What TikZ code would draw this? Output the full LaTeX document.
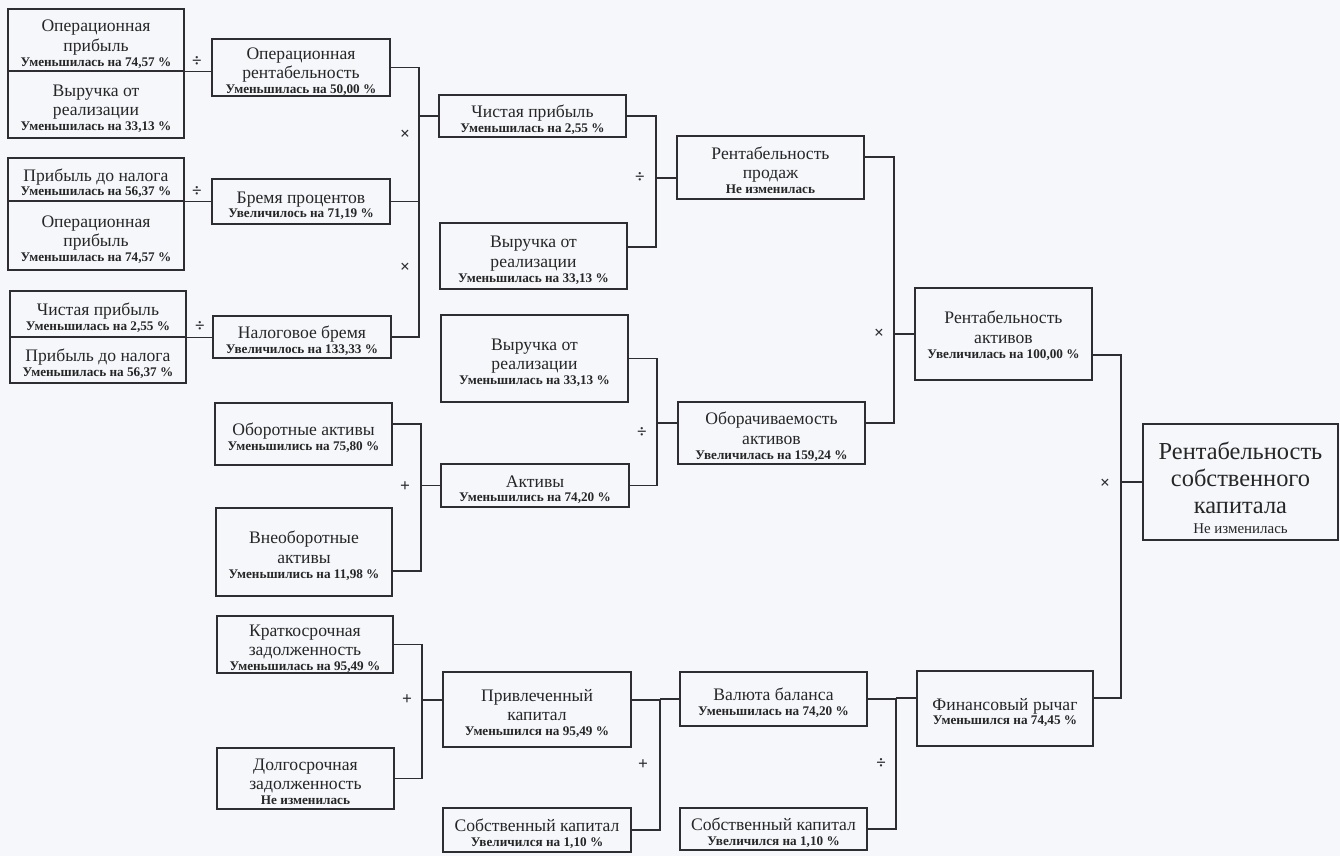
\documentclass[tikz,border=0pt]{standalone}
\usepackage{fontspec}
\setmainfont{Liberation Serif}
\usetikzlibrary{calc}
\definecolor{bg}{RGB}{245,247,251}
\definecolor{ln}{RGB}{45,45,50}
\newcommand{\sm}[1]{\\[-3.6pt]{\fontsize{9.9}{11}\selectfont\bfseries #1}}
\newcommand{\smr}[1]{\\[-6pt]{\fontsize{11.2}{12}\selectfont #1}}
\newcommand{\bx}[2][-3.8pt]{\raisebox{#1}[\height][\depth]{\begin{tabular}{@{}c@{}}#2\end{tabular}}}
\begin{document}
\begin{tikzpicture}[x=0.75pt,y=-0.75pt,
  box/.style={draw=ln, line width=0.9pt, fill=bg, inner sep=0pt, text=black!85, font=\fontsize{13.2}{14.8}\selectfont},
  wh/.style 2 args={minimum width=#1*0.75pt, minimum height=#2*0.75pt},
  wire/.style={draw=ln, line width=0.9pt},
  op/.style={font=\fontsize{13}{13}\selectfont\bfseries, text=ln, inner sep=0pt}]
\fill[bg] (0,0) rectangle (1340,856);
\useasboundingbox (0,0) rectangle (1340,856);

% column A
\node[box,wh={176}{62}] (A1) at (96,40) {\bx{Операционная\\прибыль\sm{Уменьшилась на 74,57~\%}}};
\node[box,wh={176}{67}] (A2) at (96,104.5) {\bx{Выручка от\\реализации\sm{Уменьшилась на 33,13~\%}}};
\node[box,wh={176}{43}] (A3) at (96,179.5) {\bx{Прибыль до налога\sm{Уменьшилась на 56,37~\%}}};
\node[box,wh={176}{69}] (A4) at (96,235.5) {\bx{Операционная\\прибыль\sm{Уменьшилась на 74,57~\%}}};
\node[box,wh={176}{46}] (A5) at (98,314) {\bx{Чистая прибыль\sm{Уменьшилась на 2,55~\%}}};
\node[box,wh={176}{46}] (A6) at (98,360) {\bx{Прибыль до налога\sm{Уменьшилась на 56,37~\%}}};

% column B
\node[box,wh={178}{57}] (B1) at (301,67.5) {\bx{Операционная\\рентабельность\sm{Уменьшилась на 50,00~\%}}};
\node[box,wh={178}{45}] (B2) at (301,201.5) {\bx{Бремя процентов\sm{Увеличилось на 71,19~\%}}};
\node[box,wh={178}{42}] (B3) at (302,337) {\bx{Налоговое бремя\sm{Увеличилось на 133,33~\%}}};
\node[box,wh={177}{62}] (B4) at (303.5,434) {\bx{Оборотные активы\sm{Уменьшились на 75,80~\%}}};
\node[box,wh={176}{88}] (B5) at (304,552) {\bx{Внеоборотные\\активы\sm{Уменьшились на 11,98~\%}}};
\node[box,wh={176}{57}] (B6) at (305,644.5) {\bx{Краткосрочная\\задолженность\sm{Уменьшилась на 95,49~\%}}};
\node[box,wh={177}{61}] (B7) at (305.5,778.5) {\bx{Долгосрочная\\задолженность\sm{Не изменилась}}};

% column C
\node[box,wh={187}{42}] (C1) at (532.5,116) {\bx{Чистая прибыль\sm{Уменьшилась на 2,55~\%}}};
\node[box,wh={187}{66}] (C2) at (533.5,256) {\bx{Выручка от\\реализации\sm{Уменьшилась на 33,13~\%}}};
\node[box,wh={187}{87}] (C3) at (534.5,358.5) {\bx{Выручка от\\реализации\sm{Уменьшилась на 33,13~\%}}};
\node[box,wh={188}{43}] (C4) at (535,485.5) {\bx{Активы\sm{Уменьшились на 74,20~\%}}};
\node[box,wh={188}{75}] (C5) at (537,709.5) {\bx{Привлеченный\\капитал\sm{Уменьшился на 95,49~\%}}};
\node[box,wh={188}{44}] (C6) at (537,830) {\bx{Собственный капитал\sm{Увеличился на 1,10~\%}}};

% column D
\node[box,wh={187}{63}] (D1) at (770.5,167.5) {\bx{Рентабельность\\продаж\sm{Не изменилась}}};
\node[box,wh={187}{62}] (D2) at (771.5,433) {\bx{Оборачиваемость\\активов\sm{Увеличилась на 159,24~\%}}};
\node[box,wh={187}{54}] (D3) at (773.5,699) {\bx{Валюта баланса\sm{Уменьшилась на 74,20~\%}}};
\node[box,wh={187}{42}] (D4) at (773.5,829) {\bx{Собственный капитал\sm{Увеличился на 1,10~\%}}};

% column E
\node[box,wh={177}{92}] (E1) at (1003.5,334) {\bx[-2.5pt]{Рентабельность\\активов\sm{Увеличилась на 100,00~\%}}};
\node[box,wh={176}{75}] (E3) at (1005,708.5) {\bx{Финансовый рычаг\sm{Уменьшился на 74,45~\%}}};
\node[box,wh={195}{116},font=\fontsize{18.3}{20.5}\selectfont] (E2) at (1240.5,482) {\bx[-6.6pt]{Рентабельность\\собственного\\капитала\smr{Не изменилась}}};

% shifted connection points
\coordinate (B4o) at ([yshift=7.5pt]B4.east);
\coordinate (B5o) at ([yshift=-14.25pt]B5.east);
\coordinate (C5i) at ([yshift=7.1pt]C5.west);
\coordinate (C5o) at ([yshift=7.1pt]C5.east);
\coordinate (C2o) at ([yshift=6.75pt]C2.east);
\coordinate (D1i) at ([yshift=-7.9pt]D1.west);
\coordinate (D1o) at ([yshift=7.9pt]D1.east);
\coordinate (D2i) at ([yshift=7.5pt]D2.west);
\coordinate (D2o) at ([yshift=7.5pt]D2.east);
\coordinate (E1o) at ([yshift=-15.75pt]E1.east);
\coordinate (E3i) at ([yshift=7.9pt]E3.west);
\coordinate (E3o) at ([yshift=7.9pt]E3.east);

% junction x positions
\coordinate (j1) at (419,0);
\coordinate (j2) at (421,0);
\coordinate (j3) at (422,0);
\coordinate (j4) at (656,0);
\coordinate (j5) at (657,0);
\coordinate (j6) at (660,0);
\coordinate (j7) at (894,0);
\coordinate (j8) at (896,0);
\coordinate (j9) at (1121,0);

% A -> B
\draw[wire] (A1.south east) -- (A1.south east -| B1.west);
\draw[wire] (A3.south east) -- (A3.south east -| B2.west);
\draw[wire] (A5.south east) -- (A5.south east -| B3.west);

% B -> C1
\draw[wire] (B1.east) -- (B1.east -| j1) -- (B3.east -| j1) -- (B3.east);
\draw[wire] (B2.east) -- (B2.east -| j1);
\draw[wire] (C1.west -| j1) -- (C1.west);
% B4,B5 -> C4
\draw[wire] (B4o) -- (B4o -| j2) -- (B5o -| j2) -- (B5o);
\draw[wire] (C4.west -| j2) -- (C4.west);
% B6,B7 -> C5
\draw[wire] (B6.east) -- (B6.east -| j3) -- (B7.east -| j3) -- (B7.east);
\draw[wire] (C5i -| j3) -- (C5i);
% C1,C2 -> D1
\draw[wire] (C1.east) -- (C1.east -| j4) -- (C2o -| j4) -- (C2o);
\draw[wire] (D1i -| j4) -- (D1i);
% C3,C4 -> D2
\draw[wire] (C3.east) -- (C3.east -| j5) -- (C4.east -| j5) -- (C4.east);
\draw[wire] (D2i -| j5) -- (D2i);
% C5,C6 -> D3
\draw[wire] (C5o) -- (C5o -| j6) -- (C6.east -| j6) -- (C6.east);
\draw[wire] (D3.west -| j6) -- (D3.west);
% D1,D2 -> E1
\draw[wire] (D1o) -- (D1o -| j7) -- (D2o -| j7) -- (D2o);
\draw[wire] (E1.west -| j7) -- (E1.west);
% D3,D4 -> E3
\draw[wire] (D3.east) -- (D3.east -| j8) -- (D4.east -| j8) -- (D4.east);
\draw[wire] (E3i -| j8) -- (E3i);
% E1,E3 -> E2
\draw[wire] (E1o) -- (E1o -| j9) -- (E3o -| j9) -- (E3o);
\draw[wire] (E2.west -| j9) -- (E2.west);

% operators
\node[op] (o1) at (197,62) {÷};
\node[op] (o2) at (197,192) {÷};
\node[op] (o3) at (200,327) {÷};
\node[op] (o4) at (405,135) {×};
\node[op] (o5) at (405,268) {×};
\node[op] (o6) at (405,487) {+};
\node[op] (o7) at (407,700) {+};
\node[op] (o8) at (640,178) {÷};
\node[op] (o9) at (642,433) {÷};
\node[op] (o10) at (643,765) {+};
\node[op] (o11) at (879,334) {×};
\node[op] (o12) at (881,764) {÷};
\node[op] (o13) at (1105,484) {×};
\end{tikzpicture}
\end{document}
